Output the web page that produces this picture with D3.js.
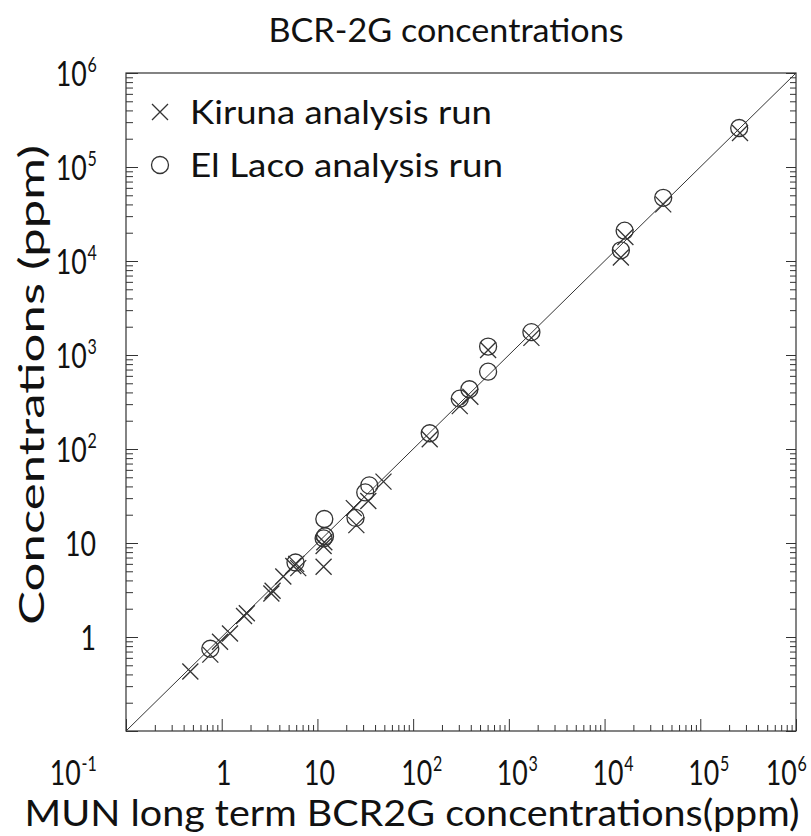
<!DOCTYPE html>
<html>
<head>
<meta charset="utf-8">
<script src="https://cdn.jsdelivr.net/npm/d3@7"></script>
<style>
  html, body { margin: 0; padding: 0; background: #fff; }
  svg { display: block; }
  text { font-family: Lato, "Open Sans", sans-serif; fill: #111; }
</style>
</head>
<body>
<svg id="chart" width="811" height="836"></svg>
<script>
// MUN long-term values (x) vs measured concentrations (y), ppm
const kirunaX = [0.47, 0.76, 0.96, 1.22, 1.71, 1.83, 3.3, 3.4, 4.4, 5.6, 6.0, 6.3,
                 11.6, 11.8, 11.6, 24, 25.5, 34, 49, 149, 307, 396, 607, 1720,
                 14800, 16500, 41000, 260000];
const kirunaY = [0.43, 0.65, 0.89, 1.09, 1.67, 1.79, 2.9, 3.1, 4.4, 5.7, 6.0, 5.4,
                 5.6, 10.2, 9.3, 23.5, 15.5, 28, 45, 127, 286, 360, 1130, 1520,
                 10900, 18000, 40000, 230000];

const lacoX = [0.76, 5.9, 11.6, 12.0, 11.8, 25, 31.6, 34.8, 149, 307, 387, 607, 607,
               1720, 14800, 16200, 41000, 255000];
const lacoY = [0.75, 6.2, 11.2, 11.8, 18, 18.5, 34.5, 41, 147, 343, 432, 664, 1230,
               1750, 13000, 21000, 47000, 260000];

// Decade ticks and their labels ("base|exponent")
const decades = [-1, 0, 1, 2, 3, 4, 5, 6];
const xTickLabels = ["10|-1", "1", "10", "10|2", "10|3", "10|4", "10|5", "10|6"];
const yTickLabels = ["", "1", "10", "10|2", "10|3", "10|4", "10|5", "10|6"];

const titleText = "BCR-2G concentrations";
const xTitle = "MUN long term BCR2G concentrations(ppm)";
const yTitle = "Concentrations (ppm)";
const seriesNames = ["Kiruna analysis run", "El Laco analysis run"];

const svg = d3.select("#chart");
const m = { left: 126, top: 73, right: 796, bottom: 731 };
const x = d3.scaleLog().domain([0.1, 1e6]).range([m.left, m.right]);
const y = d3.scaleLog().domain([0.1, 1e6]).range([m.bottom, m.top]);

const majors = decades.map(e => Math.pow(10, e));
const minors = [];
decades.slice(0, -1).forEach(e => {
  for (let k = 2; k <= 9; k++) minors.push(k * Math.pow(10, e));
});

const ink = "#333";

function styleAxis(g) {
  g.select(".domain").remove();
  g.selectAll("line").attr("stroke", ink).attr("stroke-width", 1);
}

// bottom axis: ticks drawn inward
svg.append("g").attr("transform", `translate(0,${m.bottom})`)
  .call(d3.axisBottom(x).tickValues(minors).tickSize(-6).tickFormat("")).call(styleAxis);
svg.append("g").attr("transform", `translate(0,${m.bottom})`)
  .call(d3.axisBottom(x).tickValues(majors).tickSize(-12).tickFormat("")).call(styleAxis);
// left axis
svg.append("g").attr("transform", `translate(${m.left},0)`)
  .call(d3.axisLeft(y).tickValues(minors).tickSize(-7).tickFormat("")).call(styleAxis);
svg.append("g").attr("transform", `translate(${m.left},0)`)
  .call(d3.axisLeft(y).tickValues(majors).tickSize(-12).tickFormat("")).call(styleAxis);
// right axis
svg.append("g").attr("transform", `translate(${m.right},0)`)
  .call(d3.axisRight(y).tickValues(minors).tickSize(-6).tickFormat("")).call(styleAxis);
svg.append("g").attr("transform", `translate(${m.right},0)`)
  .call(d3.axisRight(y).tickValues(majors).tickSize(-10).tickFormat("")).call(styleAxis);

// frame
svg.append("rect")
  .attr("x", m.left).attr("y", m.top)
  .attr("width", m.right - m.left).attr("height", m.bottom - m.top)
  .attr("fill", "none").attr("stroke", ink).attr("stroke-width", 1.2);

// 1:1 line
svg.append("line")
  .attr("x1", x(0.1)).attr("y1", y(0.1))
  .attr("x2", x(1e6)).attr("y2", y(1e6))
  .attr("stroke", ink).attr("stroke-width", 1);

// tick labels: one text per label with a raised exponent tspan,
// horizontally condensed through a group scale
const labelSize = 35, supSize = 21, baseWidth = 31;
const labels = svg.append("g");
const probe = svg.append("text").attr("font-size", labelSize + "px").text("10");
const sx = baseWidth / probe.node().getComputedTextLength();
probe.remove();

function makeLabel(label) {
  const parts = label.split("|");
  const g = labels.append("g");
  const t = g.append("text").attr("font-size", labelSize + "px");
  t.append("tspan").text(parts[0]);
  if (parts.length > 1) {
    t.append("tspan").attr("font-size", supSize + "px").attr("dx", 1).attr("dy", -14).text(parts[1]);
  }
  const w = t.node().getComputedTextLength() * sx;
  return { g, w };
}

function place(lbl, x0, yb) {
  lbl.g.attr("transform", `translate(${x0},${yb}) scale(${sx},1)`);
}

decades.forEach((e, i) => {
  const lab = xTickLabels[i];
  if (!lab) return;
  const tx = x(Math.pow(10, e));
  const lbl = makeLabel(lab);
  let x0;
  if (e === -1) x0 = 96 - lbl.w;
  else if (e === 6) x0 = 806 - lbl.w;
  else if (lab.indexOf("|") >= 0) x0 = tx - 12;
  else x0 = tx + 2 - lbl.w / 2;
  place(lbl, x0, 785);
});

decades.forEach((e, i) => {
  const lab = yTickLabels[i];
  if (!lab) return;
  const lbl = makeLabel(lab);
  place(lbl, 96 - lbl.w, y(Math.pow(10, e)) + 13);
});

// titles
svg.append("text").attr("x", 446).attr("y", 42)
  .attr("text-anchor", "middle").attr("font-size", "33px")
  .attr("textLength", 355).attr("lengthAdjust", "spacingAndGlyphs")
  .text(titleText);

svg.append("text").attr("x", 412).attr("y", 826)
  .attr("text-anchor", "middle").attr("font-size", "36px")
  .attr("textLength", 775).attr("lengthAdjust", "spacingAndGlyphs")
  .text(xTitle);

svg.append("text")
  .attr("transform", "translate(44,385) rotate(-90)")
  .attr("text-anchor", "middle").attr("font-size", "34px")
  .attr("textLength", 480).attr("lengthAdjust", "spacingAndGlyphs")
  .text(yTitle);

// markers
const hx = 8, r = 8.5;
function crossPath(cx, cy) {
  return `M${cx - hx},${cy - hx}L${cx + hx},${cy + hx}M${cx - hx},${cy + hx}L${cx + hx},${cy - hx}`;
}

svg.append("g").selectAll("path")
  .data(d3.range(kirunaX.length))
  .join("path")
  .attr("d", i => crossPath(x(kirunaX[i]), y(kirunaY[i])))
  .attr("stroke", ink).attr("stroke-width", 1.3).attr("fill", "none");

svg.append("g").selectAll("circle")
  .data(d3.range(lacoX.length))
  .join("circle")
  .attr("cx", i => x(lacoX[i])).attr("cy", i => y(lacoY[i]))
  .attr("r", r)
  .attr("stroke", ink).attr("stroke-width", 1.3).attr("fill", "none");

// legend
const leg = svg.append("g");
leg.append("path").attr("d", crossPath(160, 112))
  .attr("stroke", ink).attr("stroke-width", 1.3).attr("fill", "none");
leg.append("circle").attr("cx", 160).attr("cy", 165).attr("r", r)
  .attr("stroke", ink).attr("stroke-width", 1.3).attr("fill", "none");
leg.append("text").attr("x", 190).attr("y", 124).attr("font-size", "32px")
  .attr("textLength", 302).attr("lengthAdjust", "spacingAndGlyphs")
  .text(seriesNames[0]);
leg.append("text").attr("x", 190).attr("y", 177).attr("font-size", "32px")
  .attr("textLength", 313).attr("lengthAdjust", "spacingAndGlyphs")
  .text(seriesNames[1]);
</script>
</body>
</html>
